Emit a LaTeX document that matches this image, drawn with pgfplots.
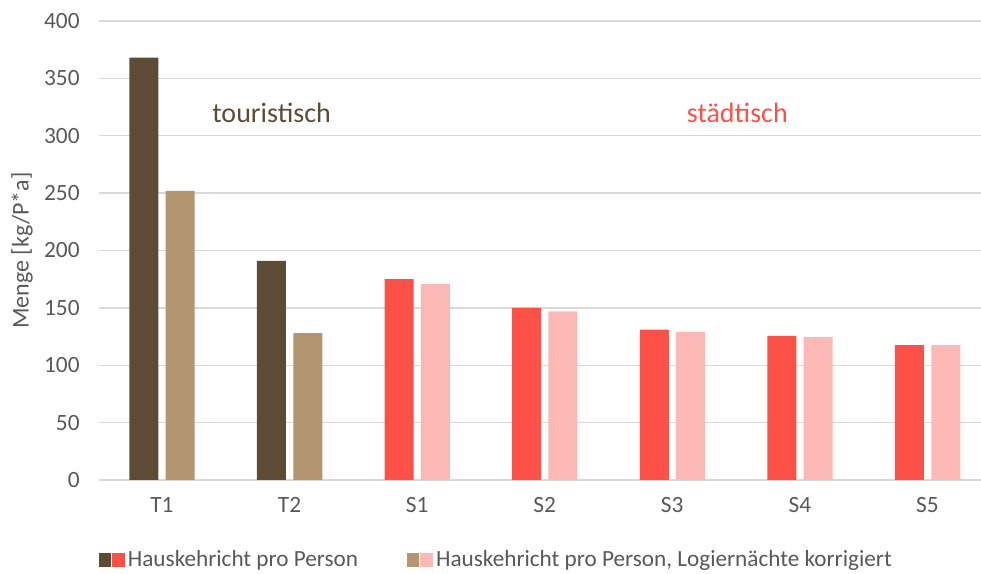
\documentclass[border=0pt]{standalone}
\usepackage{pgfplots}
\pgfplotsset{compat=1.18}
\usepackage{fontspec}
\setmainfont{Carlito}
\definecolor{tdark}{HTML}{5E4B35}
\definecolor{tlight}{HTML}{B39572}
\definecolor{sred}{HTML}{FB5146}
\definecolor{spink}{HTML}{FCB8B5}
\definecolor{gridc}{HTML}{D9D9D9}
\definecolor{txt}{HTML}{595959}
\begin{document}
\begin{tikzpicture}
\path[use as bounding box] (-74.25pt,-70.5pt) rectangle (661.5pt,360pt);
\begin{axis}[at={(0,0)}, anchor=south west, scale only axis,
  width=661.5pt, height=344.25pt,
  xmin=-0.493, xmax=6.42, ymin=0, ymax=400,
  ytick={0,50,...,400}, xtick={0,...,6},
  xticklabels={T1,T2,S1,S2,S3,S4,S5},
  axis line style={draw=none},
  ymajorgrids, grid style={gridc, line width=1.1pt},
  major tick length=0pt,
  tick label style={font=\fontsize{17.5}{20}\selectfont, text=txt},
  /pgf/number format/assume math mode=true,
  yticklabel style={xshift=-11pt},
  xticklabel style={yshift=-9.5pt},
  ylabel={Menge [kg/P*a]},
  ylabel style={at={(axis description cs:-0.0873,0.5)}, anchor=center, font=\fontsize{18}{21}\selectfont, text=txt},
  bar width=21.75pt,
  legend style={at={(axis description cs:0,-0.174)}, anchor=west, draw=none, inner sep=0pt,
    font=\fontsize{17.4}{20}\selectfont, text=txt, legend columns=2,
    /tikz/every even column/.append style={column sep=35pt}},
  legend cell align=left,
]
\addplot[ybar, bar shift=-13.5pt, fill=tdark, draw=none,
  legend image code/.code={\fill[tdark] (0pt,-5.5pt) rectangle (9pt,5.5pt); \fill[sred] (9.75pt,-5.5pt) rectangle (19.5pt,5.5pt);}]
  coordinates {(0,368) (1,191)};
\addlegendentry{Hauskehricht pro Person}
\addplot[ybar, bar shift=13.75pt, fill=tlight, draw=none,
  legend image code/.code={\fill[tlight] (0pt,-5.5pt) rectangle (9pt,5.5pt); \fill[spink] (9.75pt,-5.5pt) rectangle (19.5pt,5.5pt);}]
  coordinates {(0,252) (1,128)};
\addlegendentry{Hauskehricht pro Person, Logiernächte korrigiert}
\addplot[ybar, bar shift=-13.5pt, fill=sred, draw=none, forget plot]
  coordinates {(2,175) (3,150) (4,131) (5,125.5) (6,117.5)};
\addplot[ybar, bar shift=13.75pt, fill=spink, draw=none, forget plot]
  coordinates {(2,171) (3,147) (4,129) (5,124.5) (6,117.5)};
\node[text=tdark, font=\fontsize{21}{25}\selectfont] at (axis cs:0.86,320) {touristisch};
\node[text=sred, font=\fontsize{21}{25}\selectfont] at (axis cs:4.51,320) {städtisch};
\end{axis}
\end{tikzpicture}
\end{document}
